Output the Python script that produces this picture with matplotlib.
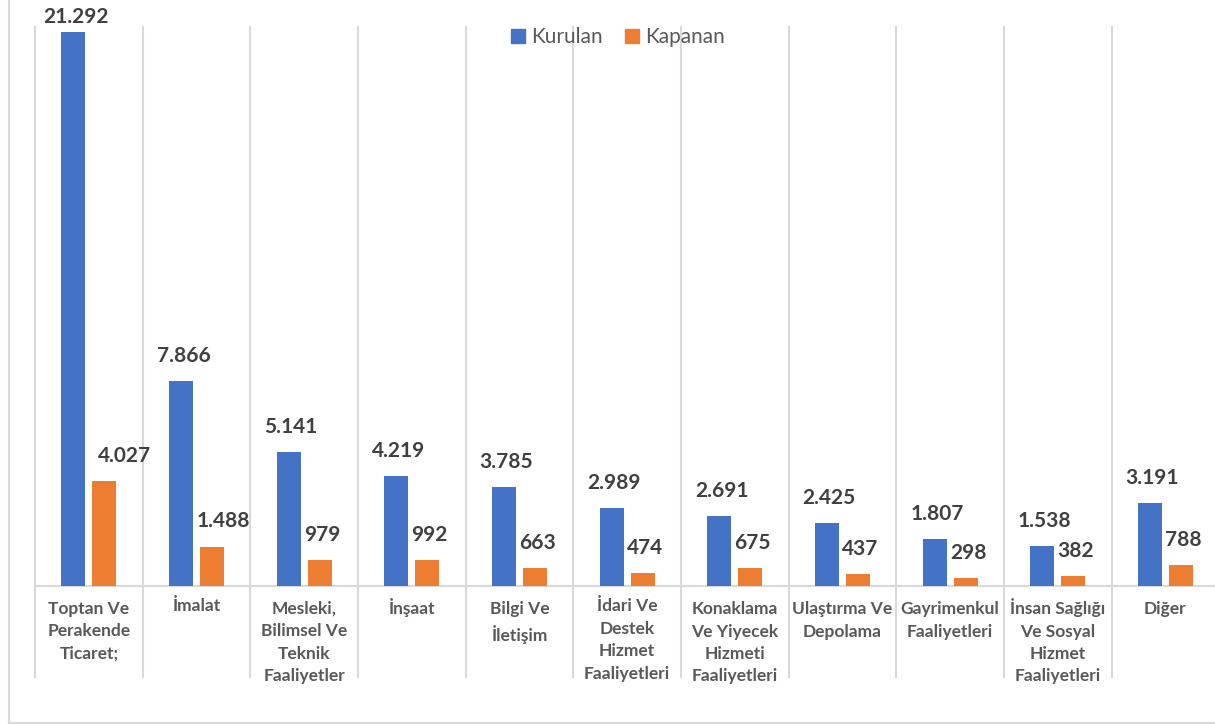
import matplotlib.pyplot as plt
from matplotlib.lines import Line2D
from matplotlib.patches import Patch
import numpy as np

categories = [
    "Toptan Ve\nPerakende\nTicaret;",
    "İmalat",
    "Mesleki,\nBilimsel Ve\nTeknik\nFaaliyetler",
    "İnşaat",
    "Bilgi Ve\nİletişim",
    "İdari Ve\nDestek\nHizmet\nFaaliyetleri",
    "Konaklama\nVe Yiyecek\nHizmeti\nFaaliyetleri",
    "Ulaştırma Ve\nDepolama",
    "Gayrimenkul\nFaaliyetleri",
    "İnsan Sağlığı\nVe Sosyal\nHizmet\nFaaliyetleri",
    "Diğer",
]
kurulan = [21292, 7866, 5141, 4219, 3785, 2989, 2691, 2425, 1807, 1538, 3191]
kapanan = [4027, 1488, 979, 992, 663, 474, 675, 437, 298, 382, 788]

BLUE = "#4472C4"
ORANGE = "#ED7D31"
GRID = "#D9D9D9"
LABEL = "#404040"
AXTEXT = "#595959"

plt.rcParams['font.family'] = ['Lato', 'DejaVu Sans']

W, H = 1215, 724
fig = plt.figure(figsize=(W / 100, H / 100), dpi=100)

# plot area in pixels: left 35, top 27, bottom 585.5, category width 107.65
cat_w = 107.65
left, top, base = 35, 27, 585.5
ax = fig.add_axes([left / W, 1 - base / H, 11 * cat_w / W, (base - top) / H])

x = np.arange(len(categories))
bw = 0.223
off = 0.144
ax.bar(x - off, kurulan, bw, color=BLUE, label="Kurulan", zorder=3)
ax.bar(x + off, kapanan, bw, color=ORANGE, label="Kapanan", zorder=3)

ax.set_xlim(-0.5, len(categories) - 0.5)
ax.set_ylim(0, 21500)
for s in ax.spines.values():
    s.set_visible(False)
ax.set_xticks([])
ax.set_yticks([])

# category separators extend below the baseline
ext = (677 - base) / (base - top)
for i in range(len(categories)):
    ax.axvline(i - 0.5, ymin=-ext, ymax=1, color=GRID, lw=1.5, clip_on=False, zorder=1)
ax.axhline(0, color=GRID, lw=1.5, zorder=2, clip_on=False)

def fmt(v):
    return f"{v:,}".replace(",", ".")

# label nudges in pixels (dx, dy above bar top)
blue_nudge = [(2.5, 15)] + [(2.5, 25)] * 10
orange_nudge = [(20, 25), (11, 26)] + [(2.5, 25)] * 9
px = 0.72
for i in range(len(categories)):
    dx, dy = blue_nudge[i]
    ax.annotate(fmt(kurulan[i]), (x[i] - off, kurulan[i]), xytext=(dx * px, dy * px),
                textcoords="offset points", ha="center", va="center",
                fontsize=15, fontweight="bold", color=LABEL, annotation_clip=False)
    dx, dy = orange_nudge[i]
    ax.annotate(fmt(kapanan[i]), (x[i] + off, kapanan[i]), xytext=(dx * px, dy * px),
                textcoords="offset points", ha="center", va="center",
                fontsize=15, fontweight="bold", color=LABEL, annotation_clip=False)

for i, c in enumerate(categories):
    # dotted capital I makes the text box taller, lift those a bit
    ty = 598 if c.startswith("İ") else 601
    ax.annotate(c, (x[i], 0), xytext=(0, -(ty - base) * px), textcoords="offset points",
                ha="center", va="top", fontsize=12.5, fontweight="bold",
                color=AXTEXT, linespacing=1.5, multialignment="center",
                annotation_clip=False)

handles = [Patch(color=BLUE), Patch(color=ORANGE)]
fig.legend(handles, ["Kurulan", "Kapanan"], loc="center", ncol=2,
           bbox_to_anchor=(618 / W, 1 - 37 / H), frameon=False, fontsize=15,
           labelcolor=AXTEXT, handlelength=0.66, handleheight=0.66,
           handletextpad=0.3, columnspacing=1.1)

# chart border
fig.add_artist(Line2D([8.5 / W, 8.5 / W], [0, 1], color=GRID, lw=1.5))
fig.add_artist(Line2D([8.5 / W, 1], [1 - 723 / H, 1 - 723 / H], color=GRID, lw=1.5))

fig.savefig("out.png", dpi=100, facecolor="white")
